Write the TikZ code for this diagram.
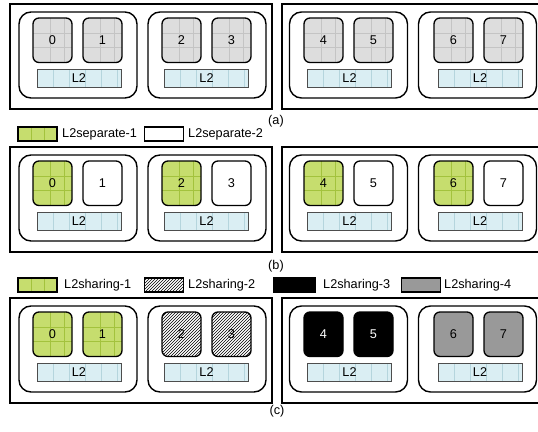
\documentclass[tikz,border=0pt]{standalone}
\usepackage{fontspec}
\setmainfont{Liberation Sans}
\usetikzlibrary{patterns}
\definecolor{coregray}{HTML}{DDDDDD}
\definecolor{coregrid}{HTML}{C4C4C4}
\definecolor{l2blue}{HTML}{DAEEF3}
\definecolor{l2grid}{HTML}{B5D5DD}
\definecolor{l2edge}{HTML}{4D4D4D}
\definecolor{lgreen}{HTML}{C6DD6E}
\definecolor{ggrid}{HTML}{A3C23D}
\definecolor{midgray}{HTML}{999999}
\tikzset{
 every node/.style={font=\fontsize{12.7}{14}\selectfont, inner sep=0pt},
 outerbox/.style={draw, line width=2pt, minimum width=262pt, minimum height=105pt},
 cluster/.style={draw, line width=1.4pt, rounded corners=12pt, minimum width=118pt, minimum height=86pt},
 corebox/.style={draw, line width=1.3pt, rounded corners=6pt, minimum width=39pt, minimum height=44.5pt},
 coregridlines/.style={path picture={
   \foreach \dx in {17,31} \draw[#1, line width=0.6pt] ([xshift=\dx pt]path picture bounding box.north west) -- ([xshift=\dx pt]path picture bounding box.south west);
   \foreach \dy in {15,29} \draw[#1, line width=0.6pt] ([yshift=-\dy pt]path picture bounding box.north west) -- ([yshift=-\dy pt]path picture bounding box.north east);}},
 graycore/.style={corebox, fill=coregray, coregridlines=coregrid},
 greencore/.style={corebox, fill=lgreen, coregridlines=ggrid},
 whitecore/.style={corebox, fill=white},
 hatchcore/.style={corebox, pattern=north east lines},
 blackcore/.style={corebox, fill=black, text=white},
 midcore/.style={corebox, fill=midgray},
 l2box/.style={draw=l2edge, line width=0.9pt, fill=l2blue, minimum width=84pt, minimum height=18pt,
   path picture={\foreach \dx in {16,32,48,64,80} \draw[l2grid, line width=0.6pt] ([xshift=\dx pt]path picture bounding box.north west) -- ([xshift=\dx pt]path picture bounding box.south west);}},
 legbox/.style={draw, line width=1.3pt, minimum width=39pt, minimum height=14pt},
 leggreen/.style={legbox, fill=lgreen,
   path picture={\foreach \dx in {13,26} \draw[ggrid, line width=0.6pt] ([xshift=\dx pt]path picture bounding box.north west) -- ([xshift=\dx pt]path picture bounding box.south west);}},
 legtext/.style={anchor=west},
 caption/.style={}
}
\newcommand{\mypanel}[2]{%
 \node[outerbox] (#1-o1) at (141,#2+52.5) {};
 \node[outerbox] (#1-o2) at (413,#2+52.5) {};
 \node[cluster] (#1-k1) at (78,#2+51) {};
 \node[cluster] (#1-k2) at (207,#2+51) {};
 \node[cluster] (#1-k3) at (348.5,#2+51) {};
 \node[cluster] (#1-k4) at (477.5,#2+51) {};
 \node[l2box] (#1-l1) at (79,#2+74) {L2};
 \node[l2box] (#1-l2) at (206.5,#2+74) {L2};
 \node[l2box] (#1-l3) at (349.5,#2+74) {L2};
 \node[l2box] (#1-l4) at (480,#2+74) {L2};
}
\newcommand{\mycore}[5]{\node[#4] (#1) at (#2,#3+36.25) {#5};}
\begin{document}
\begin{tikzpicture}[x=1pt,y=-1pt]
\useasboundingbox (0,0) rectangle (538,431);
% panel (a)
\mypanel{a}{4}
\mycore{a-0}{52.5}{4}{graycore}{0}
\mycore{a-1}{102.5}{4}{graycore}{1}
\mycore{a-2}{181.5}{4}{graycore}{2}
\mycore{a-3}{231.5}{4}{graycore}{3}
\mycore{a-4}{323.5}{4}{graycore}{4}
\mycore{a-5}{373.5}{4}{graycore}{5}
\mycore{a-6}{453.5}{4}{graycore}{6}
\mycore{a-7}{503.5}{4}{graycore}{7}
\node[caption] (capa) at (276,121) {(a)};
% legend (b)
\node[leggreen] (lb1) at (37.5,134) {};
\node[legtext] (lb1t) at (62,134) {L2separate-1};
\node[legbox, fill=white] (lb2) at (164,134) {};
\node[legtext] (lb2t) at (188,134) {L2separate-2};
% panel (b)
\mypanel{b}{147}
\mycore{b-0}{52.5}{147}{greencore}{0}
\mycore{b-1}{102.5}{147}{whitecore}{1}
\mycore{b-2}{181.5}{147}{greencore}{2}
\mycore{b-3}{231.5}{147}{whitecore}{3}
\mycore{b-4}{323.5}{147}{greencore}{4}
\mycore{b-5}{373.5}{147}{whitecore}{5}
\mycore{b-6}{453.5}{147}{greencore}{6}
\mycore{b-7}{503.5}{147}{whitecore}{7}
\node[caption] (capb) at (276,266) {(b)};
% legend (c)
\node[leggreen] (lc1) at (37.5,285) {};
\node[legtext] (lc1t) at (64,285) {L2sharing-1};
\node[legbox, pattern=north east lines] (lc2) at (164,285) {};
\node[legtext] (lc2t) at (188,285) {L2sharing-2};
\node[legbox, fill=black, minimum width=41pt] (lc3) at (294.5,285) {};
\node[legtext] (lc3t) at (323,285) {L2sharing-3};
\node[legbox, fill=midgray] (lc4) at (421,285) {};
\node[legtext] (lc4t) at (444,285) {L2sharing-4};
% panel (c)
\mypanel{c}{298}
\mycore{c-0}{52.5}{298}{greencore}{0}
\mycore{c-1}{102.5}{298}{greencore}{1}
\mycore{c-2}{181.5}{298}{hatchcore}{2}
\mycore{c-3}{231.5}{298}{hatchcore}{3}
\mycore{c-4}{323.5}{298}{blackcore}{4}
\mycore{c-5}{373.5}{298}{blackcore}{5}
\mycore{c-6}{453.5}{298}{midcore}{6}
\mycore{c-7}{503.5}{298}{midcore}{7}
\node[caption] (capc) at (277,411) {(c)};
\end{tikzpicture}
\end{document}
